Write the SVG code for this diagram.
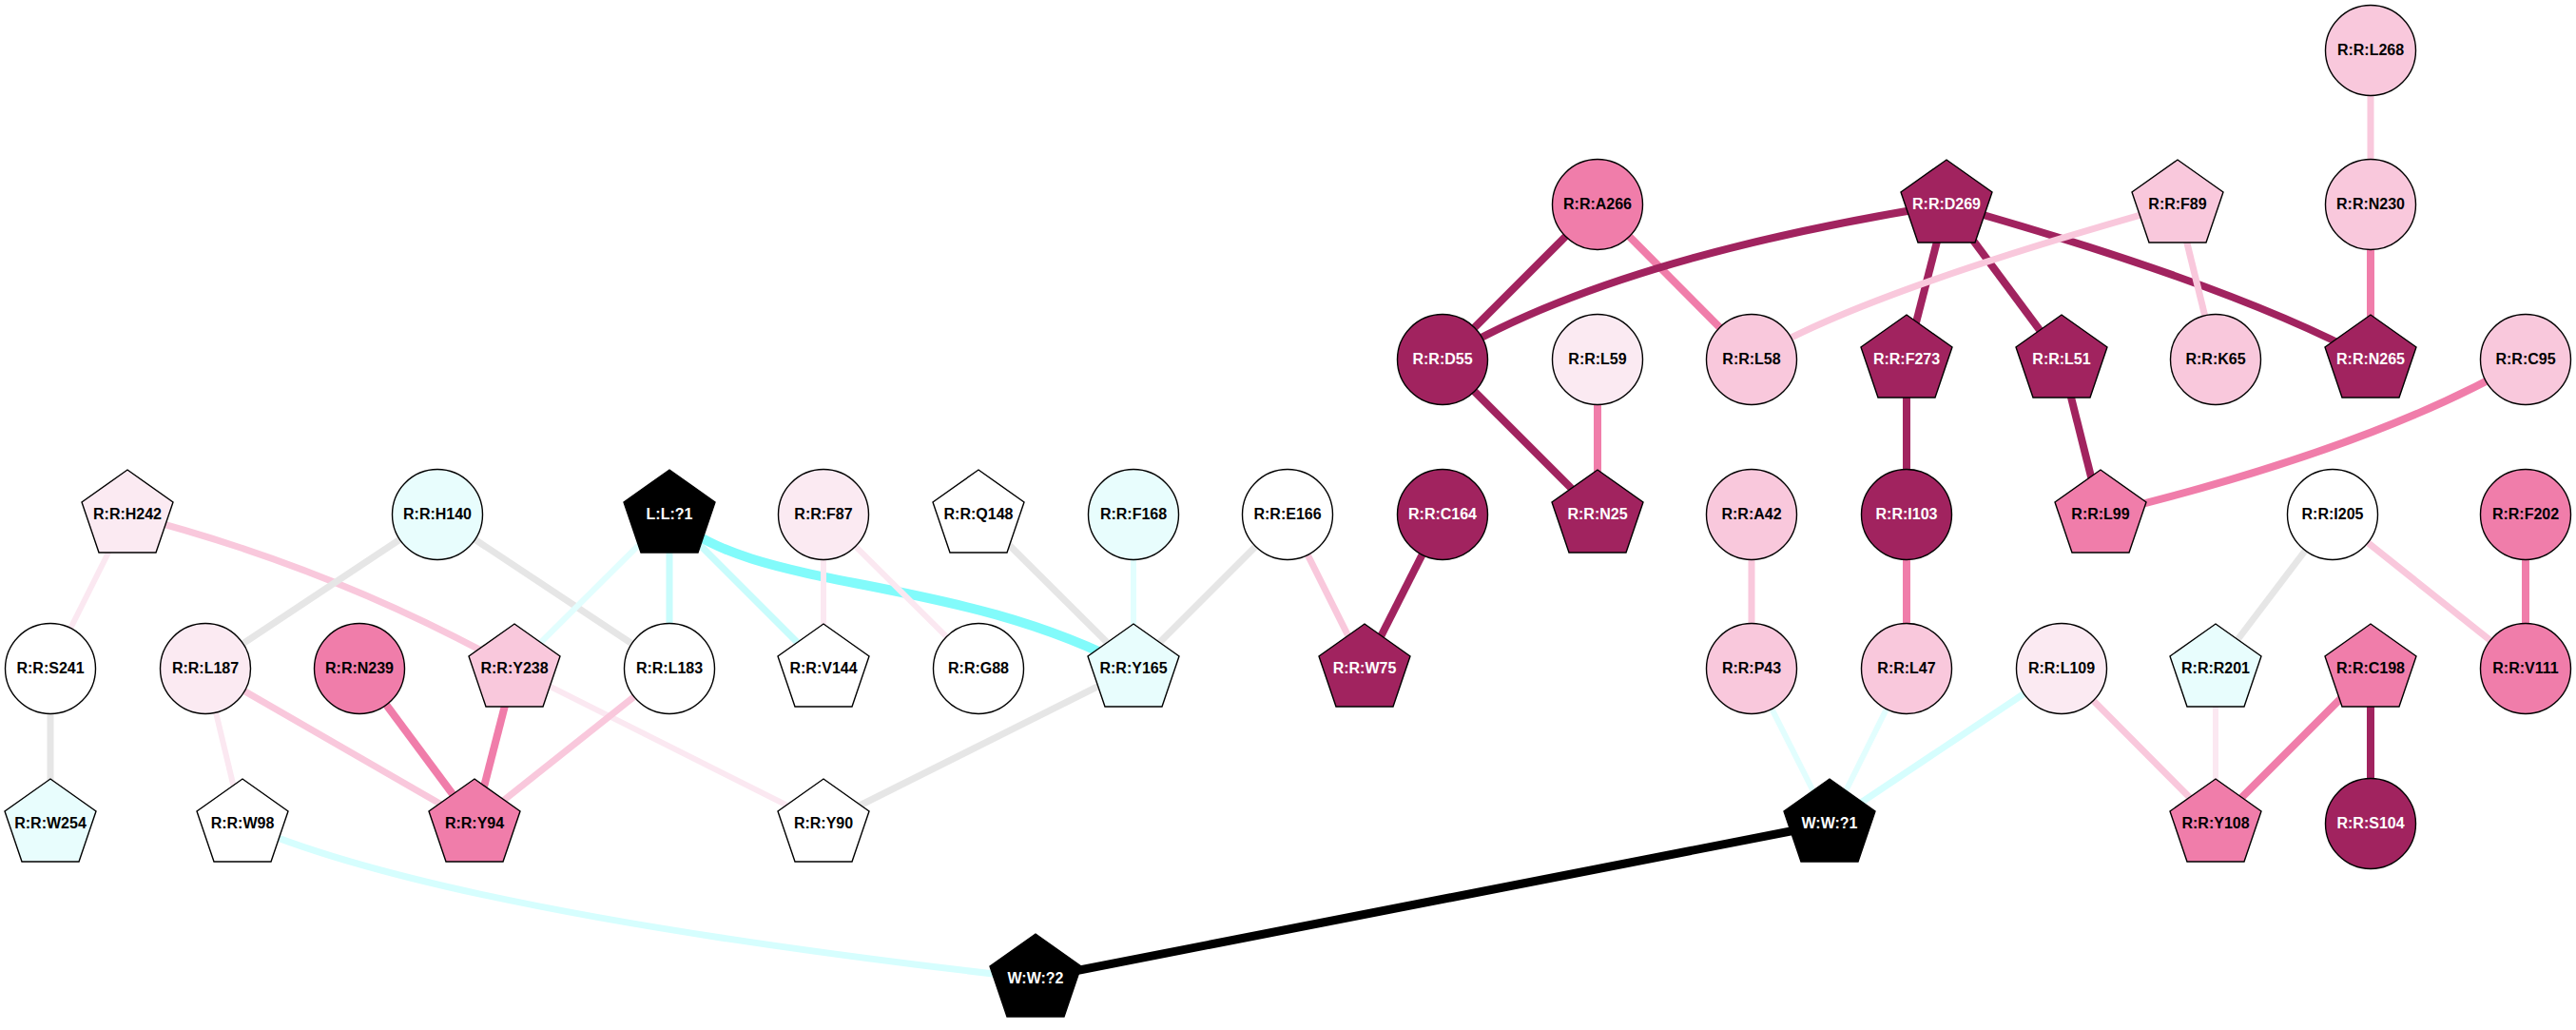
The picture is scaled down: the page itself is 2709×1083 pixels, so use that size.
<svg xmlns="http://www.w3.org/2000/svg" width="2709" height="1083" viewBox="0 0 2709 1083">
<style>
.bg{fill:#ffffff}
.n circle,.n polygon{stroke:#000;stroke-width:1.4}
.n text{font-family:"Liberation Sans",Arial,sans-serif;font-size:16px;font-weight:bold;text-anchor:middle;fill:#000}
.n.dk text,.n.bk text{fill:#fff}
.wh circle,.wh polygon{fill:#ffffff}
.cy circle,.cy polygon{fill:#e8fdfd}
.lp circle,.lp polygon{fill:#fbeaf2}
.pk circle,.pk polygon{fill:#f9c8dc}
.mp circle,.mp polygon{fill:#f07daa}
.dk circle,.dk polygon{fill:#a1235f}
.bk circle,.bk polygon{fill:#000000}
#edges path{fill:none;stroke-linecap:butt}
.e-gray{stroke:#e6e6e6;stroke-width:7}
.e-lp{stroke:#fbe8f1;stroke-width:6}
.e-pk{stroke:#f9c8dc;stroke-width:7}
.e-mp{stroke:#f07daa;stroke-width:8}
.e-dk{stroke:#a1235f;stroke-width:8}
.e-cy1{stroke:#e2fefe;stroke-width:6}
.e-cy2{stroke:#c8fcfc;stroke-width:7}
.e-cy3{stroke:#82fbfb;stroke-width:10}
.e-cy4{stroke:#d6fefe;stroke-width:7}
.e-bk{stroke:#000000;stroke-width:9}
</style>
<rect class="bg" x="0" y="0" width="2709" height="1083"/>
<g id="edges">
<path class="e-lp" d="M134,541 L53,703"/>
<path class="e-pk" d="M134,541 Q350,596 541,703"/>
<path class="e-gray" d="M53,703 L53,866"/>
<path class="e-gray" d="M460,541 L216,703"/>
<path class="e-gray" d="M460,541 L704,703"/>
<path class="e-cy1" d="M704,541 L541,703"/>
<path class="e-cy2" d="M704,541 L704,703"/>
<path class="e-cy2" d="M704,541 L866,703"/>
<path class="e-cy3" d="M704,541 C790,625 1000,600 1192,703"/>
<path class="e-lp" d="M866,541 L866,703"/>
<path class="e-lp" d="M866,541 L1029,703"/>
<path class="e-gray" d="M1029,541 L1192,703"/>
<path class="e-cy1" d="M1192,541 L1192,703"/>
<path class="e-gray" d="M1354,541 L1192,703"/>
<path class="e-pk" d="M1354,541 L1435,703"/>
<path class="e-dk" d="M1517,541 L1435,703"/>
<path class="e-pk" d="M216,703 L499,866"/>
<path class="e-lp" d="M216,703 L255,866"/>
<path class="e-mp" d="M378,703 L499,866"/>
<path class="e-mp" d="M541,703 L499,866"/>
<path class="e-lp" d="M541,703 L866,866"/>
<path class="e-pk" d="M704,703 L499,866"/>
<path class="e-gray" d="M1192,703 L866,866"/>
<path class="e-cy4" d="M255,866 Q470,960 1089,1029"/>
<path class="e-bk" d="M1089,1029 L1924,866"/>
<path class="e-dk" d="M1680,215 L1517,378"/>
<path class="e-mp" d="M1680,215 L1842,378"/>
<path class="e-dk" d="M1517,378 Q1690,272 2047,215"/>
<path class="e-dk" d="M2047,215 L2005,378"/>
<path class="e-dk" d="M2047,215 L2168,378"/>
<path class="e-dk" d="M2047,215 Q2350,300 2493,378"/>
<path class="e-pk" d="M2290,215 Q1950,310 1842,378"/>
<path class="e-pk" d="M2290,215 L2330,378"/>
<path class="e-pk" d="M2493,53 L2493,215"/>
<path class="e-mp" d="M2493,215 L2493,378"/>
<path class="e-dk" d="M1517,378 L1680,541"/>
<path class="e-mp" d="M1680,378 L1680,541"/>
<path class="e-dk" d="M2005,378 L2005,541"/>
<path class="e-dk" d="M2168,378 L2209,541"/>
<path class="e-mp" d="M2656,378 Q2500,470 2209,541"/>
<path class="e-pk" d="M1842,541 L1842,703"/>
<path class="e-mp" d="M2005,541 L2005,703"/>
<path class="e-gray" d="M2453,541 L2330,703"/>
<path class="e-pk" d="M2453,541 L2656,703"/>
<path class="e-mp" d="M2656,541 L2656,703"/>
<path class="e-cy1" d="M1842,703 L1924,866"/>
<path class="e-cy1" d="M2005,703 L1924,866"/>
<path class="e-cy4" d="M2168,703 L1924,866"/>
<path class="e-pk" d="M2168,703 L2330,866"/>
<path class="e-lp" d="M2330,703 L2330,866"/>
<path class="e-mp" d="M2493,703 L2330,866"/>
<path class="e-dk" d="M2493,703 L2493,866"/>
</g>
<g id="n_H242" class="n lp" transform="translate(134,541)"><polygon points="0,-47 48,-13 30,40 -30,40 -48,-13"/><text dy="5">R:R:H242</text></g>
<g id="n_H140" class="n cy" transform="translate(460,541)"><circle r="47.5"/><text dy="5">R:R:H140</text></g>
<g id="n_L1" class="n bk" transform="translate(704,541)"><polygon points="0,-47 48,-13 30,40 -30,40 -48,-13"/><text dy="5">L:L:?1</text></g>
<g id="n_F87" class="n lp" transform="translate(866,541)"><circle r="47.5"/><text dy="5">R:R:F87</text></g>
<g id="n_Q148" class="n wh" transform="translate(1029,541)"><polygon points="0,-47 48,-13 30,40 -30,40 -48,-13"/><text dy="5">R:R:Q148</text></g>
<g id="n_F168" class="n cy" transform="translate(1192,541)"><circle r="47.5"/><text dy="5">R:R:F168</text></g>
<g id="n_E166" class="n wh" transform="translate(1354,541)"><circle r="47.5"/><text dy="5">R:R:E166</text></g>
<g id="n_C164" class="n dk" transform="translate(1517,541)"><circle r="47.5"/><text dy="5">R:R:C164</text></g>
<g id="n_S241" class="n wh" transform="translate(53,703)"><circle r="47.5"/><text dy="5">R:R:S241</text></g>
<g id="n_L187" class="n lp" transform="translate(216,703)"><circle r="47.5"/><text dy="5">R:R:L187</text></g>
<g id="n_N239" class="n mp" transform="translate(378,703)"><circle r="47.5"/><text dy="5">R:R:N239</text></g>
<g id="n_Y238" class="n pk" transform="translate(541,703)"><polygon points="0,-47 48,-13 30,40 -30,40 -48,-13"/><text dy="5">R:R:Y238</text></g>
<g id="n_L183" class="n wh" transform="translate(704,703)"><circle r="47.5"/><text dy="5">R:R:L183</text></g>
<g id="n_V144" class="n wh" transform="translate(866,703)"><polygon points="0,-47 48,-13 30,40 -30,40 -48,-13"/><text dy="5">R:R:V144</text></g>
<g id="n_G88" class="n wh" transform="translate(1029,703)"><circle r="47.5"/><text dy="5">R:R:G88</text></g>
<g id="n_Y165" class="n cy" transform="translate(1192,703)"><polygon points="0,-47 48,-13 30,40 -30,40 -48,-13"/><text dy="5">R:R:Y165</text></g>
<g id="n_W75" class="n dk" transform="translate(1435,703)"><polygon points="0,-47 48,-13 30,40 -30,40 -48,-13"/><text dy="5">R:R:W75</text></g>
<g id="n_W254" class="n cy" transform="translate(53,866)"><polygon points="0,-47 48,-13 30,40 -30,40 -48,-13"/><text dy="5">R:R:W254</text></g>
<g id="n_W98" class="n wh" transform="translate(255,866)"><polygon points="0,-47 48,-13 30,40 -30,40 -48,-13"/><text dy="5">R:R:W98</text></g>
<g id="n_Y94" class="n mp" transform="translate(499,866)"><polygon points="0,-47 48,-13 30,40 -30,40 -48,-13"/><text dy="5">R:R:Y94</text></g>
<g id="n_Y90" class="n wh" transform="translate(866,866)"><polygon points="0,-47 48,-13 30,40 -30,40 -48,-13"/><text dy="5">R:R:Y90</text></g>
<g id="n_W2" class="n bk" transform="translate(1089,1029)"><polygon points="0,-47 48,-13 30,40 -30,40 -48,-13"/><text dy="5">W:W:?2</text></g>
<g id="n_L268" class="n pk" transform="translate(2493,53)"><circle r="47.5"/><text dy="5">R:R:L268</text></g>
<g id="n_A266" class="n mp" transform="translate(1680,215)"><circle r="47.5"/><text dy="5">R:R:A266</text></g>
<g id="n_D269" class="n dk" transform="translate(2047,215)"><polygon points="0,-47 48,-13 30,40 -30,40 -48,-13"/><text dy="5">R:R:D269</text></g>
<g id="n_F89" class="n pk" transform="translate(2290,215)"><polygon points="0,-47 48,-13 30,40 -30,40 -48,-13"/><text dy="5">R:R:F89</text></g>
<g id="n_N230" class="n pk" transform="translate(2493,215)"><circle r="47.5"/><text dy="5">R:R:N230</text></g>
<g id="n_D55" class="n dk" transform="translate(1517,378)"><circle r="47.5"/><text dy="5">R:R:D55</text></g>
<g id="n_L59" class="n lp" transform="translate(1680,378)"><circle r="47.5"/><text dy="5">R:R:L59</text></g>
<g id="n_L58" class="n pk" transform="translate(1842,378)"><circle r="47.5"/><text dy="5">R:R:L58</text></g>
<g id="n_F273" class="n dk" transform="translate(2005,378)"><polygon points="0,-47 48,-13 30,40 -30,40 -48,-13"/><text dy="5">R:R:F273</text></g>
<g id="n_L51" class="n dk" transform="translate(2168,378)"><polygon points="0,-47 48,-13 30,40 -30,40 -48,-13"/><text dy="5">R:R:L51</text></g>
<g id="n_K65" class="n pk" transform="translate(2330,378)"><circle r="47.5"/><text dy="5">R:R:K65</text></g>
<g id="n_N265" class="n dk" transform="translate(2493,378)"><polygon points="0,-47 48,-13 30,40 -30,40 -48,-13"/><text dy="5">R:R:N265</text></g>
<g id="n_C95" class="n pk" transform="translate(2656,378)"><circle r="47.5"/><text dy="5">R:R:C95</text></g>
<g id="n_N25" class="n dk" transform="translate(1680,541)"><polygon points="0,-47 48,-13 30,40 -30,40 -48,-13"/><text dy="5">R:R:N25</text></g>
<g id="n_A42" class="n pk" transform="translate(1842,541)"><circle r="47.5"/><text dy="5">R:R:A42</text></g>
<g id="n_I103" class="n dk" transform="translate(2005,541)"><circle r="47.5"/><text dy="5">R:R:I103</text></g>
<g id="n_L99" class="n mp" transform="translate(2209,541)"><polygon points="0,-47 48,-13 30,40 -30,40 -48,-13"/><text dy="5">R:R:L99</text></g>
<g id="n_I205" class="n wh" transform="translate(2453,541)"><circle r="47.5"/><text dy="5">R:R:I205</text></g>
<g id="n_F202" class="n mp" transform="translate(2656,541)"><circle r="47.5"/><text dy="5">R:R:F202</text></g>
<g id="n_P43" class="n pk" transform="translate(1842,703)"><circle r="47.5"/><text dy="5">R:R:P43</text></g>
<g id="n_L47" class="n pk" transform="translate(2005,703)"><circle r="47.5"/><text dy="5">R:R:L47</text></g>
<g id="n_L109" class="n lp" transform="translate(2168,703)"><circle r="47.5"/><text dy="5">R:R:L109</text></g>
<g id="n_R201" class="n cy" transform="translate(2330,703)"><polygon points="0,-47 48,-13 30,40 -30,40 -48,-13"/><text dy="5">R:R:R201</text></g>
<g id="n_C198" class="n mp" transform="translate(2493,703)"><polygon points="0,-47 48,-13 30,40 -30,40 -48,-13"/><text dy="5">R:R:C198</text></g>
<g id="n_V111" class="n mp" transform="translate(2656,703)"><circle r="47.5"/><text dy="5">R:R:V111</text></g>
<g id="n_W1" class="n bk" transform="translate(1924,866)"><polygon points="0,-47 48,-13 30,40 -30,40 -48,-13"/><text dy="5">W:W:?1</text></g>
<g id="n_Y108" class="n mp" transform="translate(2330,866)"><polygon points="0,-47 48,-13 30,40 -30,40 -48,-13"/><text dy="5">R:R:Y108</text></g>
<g id="n_S104" class="n dk" transform="translate(2493,866)"><circle r="47.5"/><text dy="5">R:R:S104</text></g>
</svg>
